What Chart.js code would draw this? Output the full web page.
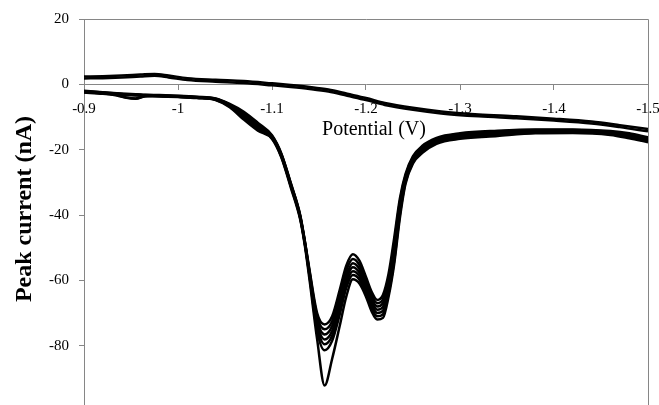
<!DOCTYPE html>
<html>
<head>
<meta charset="utf-8">
<script src="https://cdn.jsdelivr.net/npm/chart.js@4"></script>
<style>
  html, body { margin: 0; padding: 0; background: #fff; }
  body { width: 659px; height: 405px; overflow: hidden; position: relative; }
  #wrap { position: absolute; left: 0; top: 0; width: 680px; height: 430px; }
</style>
</head>
<body>
<div id="wrap"><canvas id="cv" width="680" height="430"></canvas></div>
<script>
// Forward (cathodic) scan potentials, V
const potentialFwd = [-0.900, -0.920, -0.935, -0.945, -0.955, -0.965, -0.980, -1.000, -1.020, -1.040,
  -1.055, -1.070, -1.085, -1.100, -1.110, -1.120, -1.130, -1.135, -1.140, -1.148, -1.156,
  -1.164, -1.172, -1.179, -1.186, -1.193, -1.200, -1.206, -1.212, -1.218, -1.224,
  -1.230, -1.236, -1.242, -1.250, -1.260, -1.275, -1.300, -1.340, -1.380, -1.420,
  -1.460, -1.480, -1.500];

// Forward scan currents for each cycle, nA
const cycle1 = [-2.0, -2.4, -2.7, -2.9, -3.0, -3.2, -3.3, -3.5, -3.8, -4.3,
  -6.0, -8.4, -11.8, -15.6, -21.2, -30.2, -40.0, -48.0, -57.0, -70.0, -73.5,
  -71.0, -63.0, -55.5, -52.0, -54.0, -59.0, -63.5, -66.0, -64.5, -58.0,
  -47.0, -35.0, -27.5, -22.0, -18.8, -16.4, -15.0, -14.2, -13.8, -13.8,
  -14.3, -15.0, -16.2];
const cycle2 = [-2.1, -2.5, -2.8, -3.0, -3.1, -3.3, -3.4, -3.6, -3.9, -4.4,
  -6.2, -8.8, -12.2, -15.8, -21.4, -30.4, -40.2, -48.2, -57.4, -71.0, -75.0,
  -72.5, -64.5, -57.0, -53.5, -55.3, -60.0, -64.5, -67.0, -65.8, -59.5,
  -48.5, -36.0, -28.0, -22.3, -19.1, -16.7, -15.2, -14.4, -14.0, -14.0,
  -14.5, -15.3, -16.5];
const cycle3 = [-2.2, -2.6, -3.3, -4.0, -4.3, -3.6, -3.5, -3.7, -4.0, -4.5,
  -6.3, -9.2, -12.6, -16.0, -21.6, -30.6, -40.4, -48.4, -57.8, -72.0, -76.6,
  -74.0, -66.0, -58.5, -54.8, -56.5, -61.0, -65.5, -68.0, -67.0, -61.0,
  -50.0, -37.0, -28.5, -22.6, -19.4, -17.0, -15.5, -14.6, -14.2, -14.1,
  -14.7, -15.6, -16.8];
const cycle4 = [-2.3, -2.6, -2.9, -3.1, -3.2, -3.4, -3.5, -3.7, -4.0, -4.6,
  -6.5, -9.6, -13.0, -16.2, -21.8, -30.8, -40.6, -48.6, -58.2, -73.0, -78.1,
  -75.5, -67.5, -59.8, -56.0, -57.6, -62.0, -66.5, -69.0, -68.2, -62.0,
  -51.5, -38.0, -29.0, -23.0, -19.8, -17.3, -15.8, -14.9, -14.4, -14.3,
  -14.9, -15.9, -17.1];
const cycle5 = [-2.2, -2.7, -3.4, -4.1, -4.4, -3.7, -3.6, -3.8, -4.1, -4.6,
  -6.6, -10.0, -13.4, -16.3, -22.0, -31.0, -40.8, -48.8, -58.6, -74.0, -79.6,
  -77.0, -69.0, -61.0, -57.2, -58.7, -63.0, -67.5, -70.0, -69.3, -63.0,
  -53.0, -39.0, -29.5, -23.4, -20.2, -17.6, -16.1, -15.2, -14.6, -14.5,
  -15.1, -16.1, -17.3];
const cycle6 = [-2.4, -2.8, -3.0, -3.2, -3.3, -3.4, -3.6, -3.8, -4.1, -4.7,
  -6.8, -10.4, -13.8, -16.5, -22.2, -31.2, -41.0, -49.0, -59.0, -75.5, -81.4,
  -78.5, -70.5, -62.3, -58.4, -59.8, -64.0, -68.5, -71.0, -70.4, -64.0,
  -54.0, -40.0, -30.0, -23.8, -20.6, -17.9, -16.4, -15.5, -14.8, -14.7,
  -15.3, -16.3, -17.5];
const cycle7 = [-2.5, -2.9, -3.1, -3.3, -3.4, -3.5, -3.7, -3.9, -4.2, -4.8,
  -7.0, -10.8, -14.2, -16.7, -22.4, -31.6, -41.4, -49.5, -60.0, -78.0, -92.2,
  -84.0, -74.0, -65.0, -59.7, -61.0, -65.0, -69.5, -72.0, -71.5, -65.0,
  -55.0, -41.0, -30.5, -24.2, -21.0, -18.2, -16.7, -15.8, -15.0, -14.9,
  -15.5, -16.5, -17.7];

// Reverse (anodic) scan, listed from -0.9 V to -1.5 V
const potentialRev = [-0.90, -0.92, -0.94, -0.96, -0.975, -0.99, -1.01, -1.04, -1.07, -1.10,
  -1.12, -1.14, -1.16, -1.18, -1.20, -1.22, -1.25, -1.28, -1.32, -1.36,
  -1.40, -1.44, -1.47, -1.50];
const reverseUpper = [2.4, 2.5, 2.7, 3.0, 3.2, 2.7, 1.9, 1.4, 1.0, 0.3,
  -0.2, -0.8, -1.6, -2.9, -4.2, -5.7, -7.2, -8.3, -9.2, -9.8,
  -10.5, -11.4, -12.5, -13.7];
const reverseLower = [1.8, 1.9, 2.1, 2.4, 2.6, 2.1, 1.3, 0.8, 0.4, -0.3,
  -0.8, -1.4, -2.2, -3.5, -4.8, -6.3, -7.8, -8.9, -9.8, -10.4,
  -11.1, -12.0, -13.1, -14.4];

// Axis ticks
const xTickValues = [-0.9, -1.0, -1.1, -1.2, -1.3, -1.4, -1.5];
const xTickLabels = ['-0.9', '-1', '-1.1', '-1.2', '-1.3', '-1.4', '-1.5'];
const yTickValues = [20, 0, -20, -40, -60, -80, -100];

const xTitle = 'Potential (V)';
const yTitle = 'Peak current (nA)';

const AXIS_GREY = '#868686';
const SERIF = '"Liberation Serif", "Times New Roman", serif';

function pairUp(xs, ys) {
  return xs.map((x, i) => ({ x: x, y: ys[i] }));
}

const traces = [cycle1, cycle2, cycle3, cycle4, cycle5, cycle6, cycle7]
  .map(c => pairUp(potentialFwd, c))
  .concat([pairUp(potentialRev, reverseUpper), pairUp(potentialRev, reverseLower)]);

const datasets = traces.map(pts => ({
  data: pts,
  showLine: true,
  borderColor: '#000',
  borderWidth: 2.5,
  pointRadius: 0,
  pointHoverRadius: 0,
  cubicInterpolationMode: 'monotone',
  fill: false
}));

// Frame (top/right edges) and axis captions
const framePlugin = {
  id: 'frameAndCaptions',
  afterDraw(chart) {
    const { ctx, chartArea: a } = chart;
    ctx.save();
    ctx.strokeStyle = AXIS_GREY;
    ctx.lineWidth = 1;
    ctx.beginPath();
    ctx.moveTo(a.left, a.top + 0.5);
    ctx.lineTo(a.right + 0.5, a.top + 0.5);
    ctx.lineTo(a.right + 0.5, a.bottom);
    ctx.stroke();

    ctx.fillStyle = '#000';
    ctx.textAlign = 'center';
    ctx.textBaseline = 'middle';
    ctx.font = '20px ' + SERIF;
    ctx.fillText(xTitle, 374, 130);

    ctx.translate(25, 209);
    ctx.rotate(-Math.PI / 2);
    ctx.font = 'bold 24px ' + SERIF;
    ctx.fillText(yTitle, 0, 0);
    ctx.restore();
  }
};

new Chart(document.getElementById('cv'), {
  type: 'scatter',
  data: { datasets: datasets },
  plugins: [framePlugin],
  options: {
    responsive: false,
    animation: false,
    devicePixelRatio: 1,
    layout: { padding: { left: 0, top: 17, right: 32, bottom: 11 } },
    plugins: { legend: { display: false }, tooltip: { enabled: false } },
    events: [],
    scales: {
      x: {
        type: 'linear',
        position: { y: 0 },
        reverse: true,
        min: -1.5,
        max: -0.9,
        afterBuildTicks(scale) {
          scale.ticks = xTickValues.map(v => ({ value: v }));
        },
        ticks: {
          font: { family: SERIF, size: 15 },
          color: '#000',
          padding: 11,
          maxRotation: 0,
          autoSkip: false,
          callback(value) {
            const i = xTickValues.findIndex(v => Math.abs(v - value) < 1e-6);
            return i >= 0 ? xTickLabels[i] : '';
          }
        },
        grid: { drawOnChartArea: false, drawTicks: true, tickLength: 5, color: AXIS_GREY },
        border: { color: AXIS_GREY, width: 1 }
      },
      y: {
        type: 'linear',
        position: 'left',
        min: -100,
        max: 20,
        afterBuildTicks(scale) {
          scale.ticks = yTickValues.map(v => ({ value: v }));
        },
        afterFit(scale) { scale.width = 84; },
        ticks: {
          font: { family: SERIF, size: 15 },
          color: '#000',
          padding: 10
        },
        grid: { drawOnChartArea: false, drawTicks: true, tickLength: 5, color: AXIS_GREY },
        border: { color: AXIS_GREY, width: 1 }
      }
    }
  }
});
</script>
</body>
</html>
